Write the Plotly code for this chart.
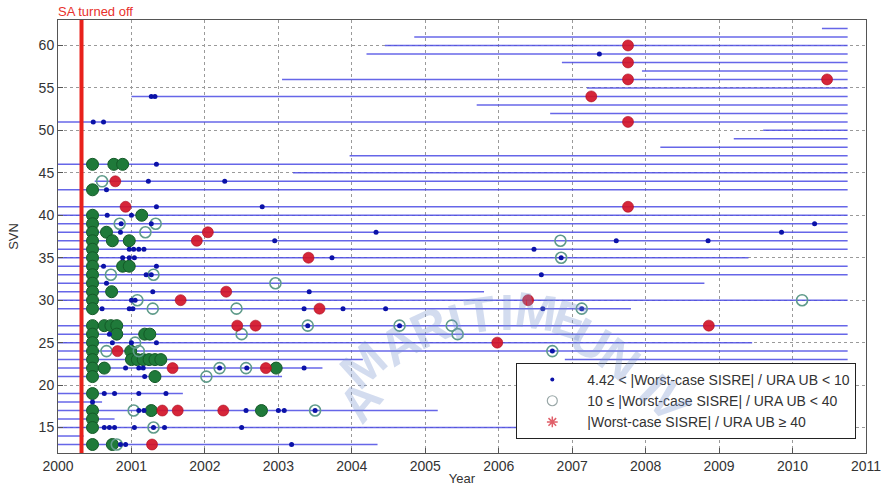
import plotly.graph_objects as go

# ---------------- data ----------------
# horizontal availability segments per SVN (start year, end year)
seg_svn = [62, 61, 60, 59, 58, 57, 56, 55, 54, 53, 52, 51, 50, 49, 48, 47, 46, 45, 44, 43, 41,
           40, 39, 38, 37, 36, 35, 34, 33, 32, 31, 30, 29, 27, 26, 25, 24, 23, 23, 22, 21,
           19, 18, 17, 16, 15, 14, 13]
seg_start = [2010.4, 2004.85, 2004.45, 2004.2, 2006.86, 2007.95, 2003.05, 2007.2, 2001.0, 2005.7, 2006.7,
             2000.0, 2009.6, 2009.2, 2008.2, 2003.97, 2000.0, 2003.2, 2000.5, 2000.0, 2000.0,
             2000.0, 2000.0, 2000.0, 2000.0, 2000.0, 2000.0, 2000.0, 2000.0, 2000.0, 2000.0, 2000.0, 2000.0,
             2000.0, 2000.0, 2000.0, 2000.0, 2000.0, 2006.9, 2000.0, 2000.0,
             2000.0, 2000.0, 2000.0, 2000.0, 2000.0, 2000.0, 2000.0]
seg_end = [2010.75, 2010.75, 2010.75, 2010.75, 2010.75, 2010.75, 2010.75, 2010.75, 2010.75, 2010.75, 2010.75,
           2010.75, 2010.75, 2010.75, 2010.75, 2010.75, 2010.75, 2010.75, 2010.75, 2010.75, 2010.75,
           2010.75, 2010.75, 2010.75, 2010.75, 2010.75, 2009.4, 2010.75, 2010.75, 2008.8, 2005.8, 2010.75, 2007.8,
           2010.75, 2010.75, 2009.45, 2010.75, 2004.15, 2010.75, 2003.6, 2003.05,
           2001.7, 2000.6, 2005.17, 2000.77, 2007.2, 2000.35, 2004.35]

# 4.42 < |Worst-case SISRE| / URA UB < 10
blue_year = [2000.48, 2000.62, 2001.27, 2001.32, 2001.34, 2001.23, 2002.27, 2000.66, 2001.34, 2002.78,
             2000.67, 2001.0, 2000.86, 2001.27, 2010.3, 2000.85, 2004.33, 2009.85,
             2002.95, 2007.6, 2008.85, 2000.97, 2001.03, 2001.1, 2001.17, 2006.48,
             2000.88, 2000.97, 2001.04, 2003.73, 2006.85, 2000.62, 2001.34, 2001.2, 2001.27, 2006.58,
             2000.66, 2001.29, 2003.42, 2001.0, 2001.05,
             2000.6, 2000.97, 2001.02, 2003.35, 2003.88, 2004.46, 2006.6, 2007.13,
             2003.4, 2004.65, 2000.7, 2000.74, 2001.0, 2001.34, 2006.73,
             2000.92, 2001.1, 2001.16, 2002.2, 2002.57, 2003.35, 2001.18,
             2000.63, 2000.77, 2001.1, 2001.47, 2000.47,
             2001.1, 2001.17, 2002.56, 2003.0, 2003.08, 2003.5,
             2000.63, 2000.7, 2000.77, 2001.04, 2001.3, 2001.45, 2002.5, 2007.3,
             2000.85, 2000.92, 2003.18, 2007.37]
blue_svn = [51, 51, 54, 54, 46, 44, 44, 43, 41, 41,
            40, 40, 39, 39, 39, 38, 38, 38,
            37, 37, 37, 36, 36, 36, 36, 36,
            35, 35, 35, 35, 35, 34, 34, 33, 33, 33,
            32, 31, 31, 30, 30,
            29, 29, 29, 29, 29, 29, 29, 29,
            27, 27, 26, 25, 25, 25, 24,
            22, 22, 22, 22, 22, 22, 21,
            19, 19, 19, 19, 18,
            17, 17, 17, 17, 17, 17,
            15, 15, 15, 15, 15, 15, 15, 15,
            13, 13, 13, 59]

# 10 <= |Worst-case SISRE| / URA UB < 40  (dense clusters)
green_year = [2000.47] * 26 + [2000.76, 2000.88, 2001.14, 2000.66, 2000.74, 2000.97, 2000.88, 2000.97,
                               2000.73, 2000.63, 2000.72, 2000.8, 2000.8, 2001.18, 2001.25, 2000.99,
                               2001.0, 2001.08, 2001.16, 2001.24, 2001.32, 2001.4, 2000.63, 2002.97,
                               2001.32, 2001.27, 2002.77, 2000.74]
green_svn = [46, 43, 40, 39, 38, 37, 36, 35, 34, 33, 32, 31, 30, 29, 27, 26, 25, 24, 23, 22, 21, 19,
             17, 16, 15, 13] + [46, 46, 40, 38, 37, 37, 34, 34,
                                31, 27, 27, 27, 26, 26, 26, 24,
                                23, 23, 23, 23, 23, 23, 22, 22,
                                21, 17, 17, 13]

# 10 <= |Worst-case SISRE| / URA UB < 40  (isolated rings)
ring_year = [2000.6, 2000.84, 2001.33, 2001.19, 2006.85, 2000.72, 2001.3, 2002.96, 2001.08,
             2001.29, 2002.43, 2007.13, 2003.4, 2004.65, 2005.36, 2002.5, 2005.44, 2001.05,
             2000.66, 2001.1, 2006.73, 2002.2, 2002.56, 2002.02, 2001.03, 2003.5, 2001.3,
             2006.84, 2010.13, 2000.8]
ring_svn = [44, 39, 39, 38, 35, 33, 33, 32, 30,
            29, 29, 29, 27, 27, 27, 26, 26, 25,
            24, 24, 24, 22, 22, 21, 17, 17, 15,
            37, 30, 13]

# |Worst-case SISRE| / URA UB >= 40
red_year = [2007.76, 2010.47, 2007.76, 2007.76, 2007.26, 2007.76, 2000.78, 2000.92, 2007.76, 2002.04,
            2001.89, 2003.41, 2002.29, 2001.67, 2006.4, 2003.56, 2002.44, 2002.69, 2008.86, 2005.98,
            2000.81, 2001.56, 2002.83, 2001.42, 2001.63, 2002.25, 2001.28]
red_svn = [56, 56, 60, 58, 54, 51, 44, 41, 41, 38,
           37, 35, 31, 30, 30, 29, 27, 27, 27, 25,
           24, 22, 22, 17, 17, 17, 13]

sa_off_year = 2000.32
x_ticks = list(range(2000, 2012))
y_ticks = [15, 20, 25, 30, 35, 40, 45, 50, 55, 60]

legend_labels = ["4.42 < |Worst-case SISRE| / URA UB < 10",
                 "10 \u2264 |Worst-case SISRE| / URA UB < 40",
                 "|Worst-case SISRE| / URA UB \u2265 40"]

# ---------------- figure ----------------
lx, ly = [], []
for s, a, b in zip(seg_svn, seg_start, seg_end):
    lx += [a, b, None]
    ly += [s, s, None]

fig = go.Figure()

# faint watermark letters
wm_letters = ["A", "M", "A", "R", "I", "T", "I", "M", "E", "U", "N", "I", "V"]
wm_px = [292, 335, 374, 407, 436, 463, 492, 524, 560, 618, 652, 682, 708]
wm_py = [466, 430, 404, 386, 374, 367, 363, 365, 375, 400, 422, 445, 468]
wm_rot = [-50, -42, -33, -25, -15, -8, 0, 8, 18, 30, 37, 44, 50]
for ch, px, py, r in zip(wm_letters, wm_px, wm_py, wm_rot):
    fig.add_annotation(x=px / 885, y=1 - py / 486, xref="paper", yref="paper", showarrow=False,
                       text="<b>" + ch + "</b>", textangle=r,
                       font=dict(size=50, color="rgba(120,150,205,0.33)", family="Liberation Sans, Arial"))

fig.add_trace(go.Scatter(x=lx, y=ly, mode="lines", line=dict(color="rgba(75,75,228,0.85)", width=1.5),
                         showlegend=False, hoverinfo="skip"))
# SA turned off line
fig.add_trace(go.Scatter(x=[sa_off_year, sa_off_year], y=[12, 63], mode="lines",
                         line=dict(color="#e8211b", width=4), showlegend=False, hoverinfo="skip"))

fig.add_trace(go.Scatter(x=green_year, y=green_svn, mode="markers", showlegend=False,
                         marker=dict(symbol="circle", size=12, color="#1f7a3a",
                                     line=dict(color="#145a28", width=1))))
fig.add_trace(go.Scatter(x=ring_year, y=ring_svn, mode="markers", showlegend=False,
                         marker=dict(symbol="circle-open", size=11, color="#5f9b8a",
                                     line=dict(width=1.6))))
fig.add_trace(go.Scatter(x=red_year, y=red_svn, mode="markers", showlegend=False,
                         marker=dict(symbol="circle", size=11, color="rgba(210,20,40,0.92)",
                                     line=dict(color="rgba(170,10,30,0.6)", width=1))))
fig.add_trace(go.Scatter(x=blue_year, y=blue_svn, mode="markers", showlegend=False,
                         marker=dict(symbol="circle", size=5, color="#0b12a8")))

# legend entries
fig.add_trace(go.Scatter(x=[None], y=[None], mode="markers", name=legend_labels[0],
                         marker=dict(symbol="circle", size=4, color="#0b12a8")))
fig.add_trace(go.Scatter(x=[None], y=[None], mode="markers", name=legend_labels[1],
                         marker=dict(symbol="circle-open", size=10, color="#9aa8a8", line=dict(width=1.2))))
fig.add_trace(go.Scatter(x=[None], y=[None], mode="markers", name=legend_labels[2],
                         marker=dict(symbol="asterisk-open", size=9, color="#e0606a", line=dict(width=1.5))))

fig.add_annotation(x=2000.51, y=1.0, xref="x", yref="paper", yanchor="bottom", yshift=-1, showarrow=False,
                   text="SA turned off", font=dict(color="#e8312b", size=13,
                                                   family="Liberation Sans, Arial, sans-serif"))

fig.update_layout(
    width=885, height=486,
    margin=dict(l=58, r=19, t=20, b=33),
    paper_bgcolor="white", plot_bgcolor="white",
    font=dict(family="Liberation Sans, Arial, sans-serif", size=14, color="#333333"),
    legend=dict(x=0.988, xanchor="right", y=0.208, yanchor="top",
                bgcolor="white", bordercolor="#222222", borderwidth=1,
                font=dict(size=14, color="#333333"), itemwidth=60, tracegroupgap=0),
)
fig.update_xaxes(range=[2000, 2011], tickvals=x_ticks, ticktext=[str(t) for t in x_ticks],
                 showgrid=True, gridcolor="#9a9a9a", griddash="dot", gridwidth=1,
                 showline=True, linecolor="#555555", mirror=True, ticks="inside", ticklen=5,
                 tickcolor="#555555", zeroline=False, automargin=False,
                 title=dict(text="Year", standoff=2, font=dict(size=13)))
fig.update_yaxes(range=[12, 63], tickvals=y_ticks, ticktext=[str(t) for t in y_ticks],
                 showgrid=True, gridcolor="#9a9a9a", griddash="dot", gridwidth=1,
                 showline=True, linecolor="#555555", mirror=True, ticks="inside", ticklen=5,
                 tickcolor="#555555", zeroline=False, automargin=False,
                 title=dict(text="SVN", standoff=17, font=dict(size=13)))

fig.write_html("out.html")
